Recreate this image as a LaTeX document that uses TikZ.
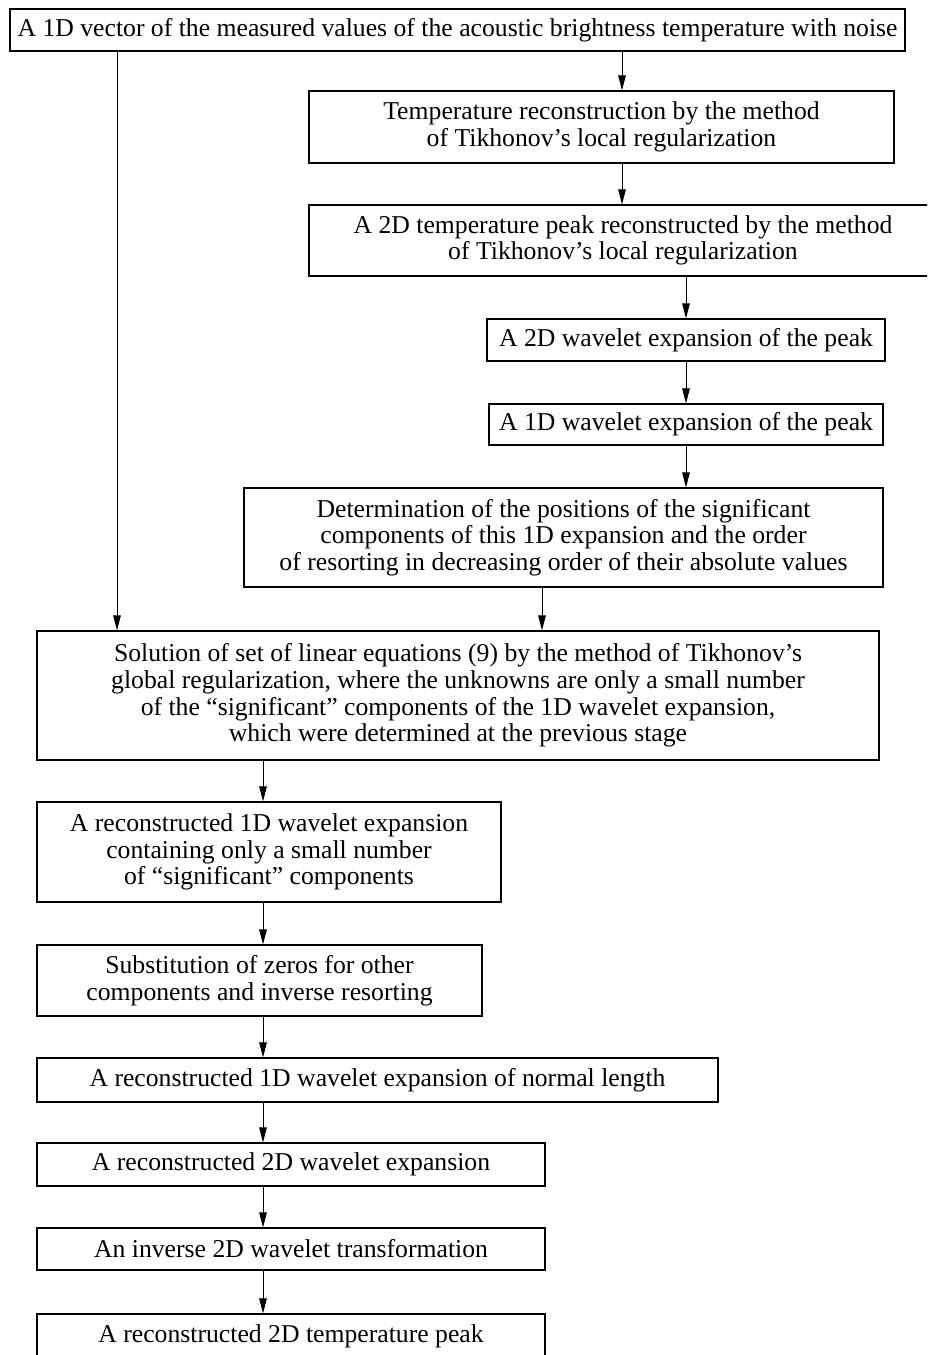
\documentclass[tikz,border=0pt]{standalone}
\usepackage{fontspec}
\setmainfont{Liberation Serif}
\usetikzlibrary{arrows.meta}
\tikzset{blk/.style={draw,line width=0.65pt,align=center,inner sep=0pt,font=\fontsize{12.85}{13.3}\selectfont},
arr/.style={line width=0.4pt,-{Triangle[length=7.5pt,width=3.8pt]}}}

\begin{document}
\begin{tikzpicture}[x=0.5pt,y=-0.5pt]
\useasboundingbox (0,0) rectangle (927,1355);
\clip (0,0) rectangle (927,1355);
\node[blk,minimum width=447.5pt,minimum height=21pt] (vec) at (457.5,30) {A 1D vector of the measured values of the acoustic brightness temperature with noise};
\node[blk,minimum width=292.5pt,minimum height=36pt] (tik) at (601.5,127) {Temperature reconstruction by the method\\of Tikhonov’s local regularization};
\node[blk,minimum width=314pt,minimum height=35.5pt] (peak) at (623,240.5) {A 2D temperature peak reconstructed by the method\\of Tikhonov’s local regularization};
\node[blk,minimum width=199pt,minimum height=21pt] (wavtwo) at (686,340) {A 2D wavelet expansion of the peak};
\node[blk,minimum width=197pt,minimum height=20.5pt] (wavone) at (686,424.5) {A 1D wavelet expansion of the peak};
\node[blk,minimum width=319.5pt,minimum height=49.5pt] (determ) at (563.5,537.5) {Determination of the positions of the significant\\components of this 1D expansion and the order\\of resorting in decreasing order of their absolute values};
\node[blk,minimum width=421pt,minimum height=64.5pt] (sol) at (458,695.5) {Solution of set of linear equations (9) by the method of Tikhonov’s\\global regularization, where the unknowns are only a small number\\of the “significant” components of the 1D wavelet expansion,\\which were determined at the previous stage};
\node[blk,minimum width=232pt,minimum height=50pt] (recone) at (269,852) {A reconstructed 1D wavelet expansion\\containing only a small number\\of “significant” components};
\node[blk,minimum width=222.5pt,minimum height=35.5pt] (subst) at (259.5,980.5) {Substitution of zeros for other\\components and inverse resorting};
\node[blk,minimum width=340.5pt,minimum height=22pt] (normal) at (377.5,1080) {A reconstructed 1D wavelet expansion of normal length};
\node[blk,minimum width=254pt,minimum height=21.5pt] (rectwo) at (291,1164.5) {A reconstructed 2D wavelet expansion};
\node[blk,minimum width=254pt,minimum height=21pt] (inv) at (291,1249) {An inverse 2D wavelet transformation};
\node[blk,minimum width=254pt,minimum height=22pt] (peakrec) at (291,1336) {A reconstructed 2D temperature peak};
\coordinate (xl) at (117,0);
\coordinate (xt) at (622,0);
\coordinate (xd) at (542,0);
\coordinate (xs) at (263,0);
\draw[arr] (vec.south -| xl) -- (sol.north -| xl);
\draw[arr] (vec.south -| xt) -- (tik.north -| xt);
\draw[arr] (tik.south -| xt) -- (peak.north -| xt);
\draw[arr] (peak.south -| wavtwo) -- (wavtwo);
\draw[arr] (wavtwo) -- (wavone);
\draw[arr] (wavone.south) -- (determ.north -| wavone);
\draw[arr] (determ.south -| xd) -- (sol.north -| xd);
\draw[arr] (sol.south -| xs) -- (recone.north -| xs);
\draw[arr] (recone.south -| xs) -- (subst.north -| xs);
\draw[arr] (subst.south -| xs) -- (normal.north -| xs);
\draw[arr] (normal.south -| xs) -- (rectwo.north -| xs);
\draw[arr] (rectwo.south -| xs) -- (inv.north -| xs);
\draw[arr] (inv.south -| xs) -- (peakrec.north -| xs);
\end{tikzpicture}
\end{document}
